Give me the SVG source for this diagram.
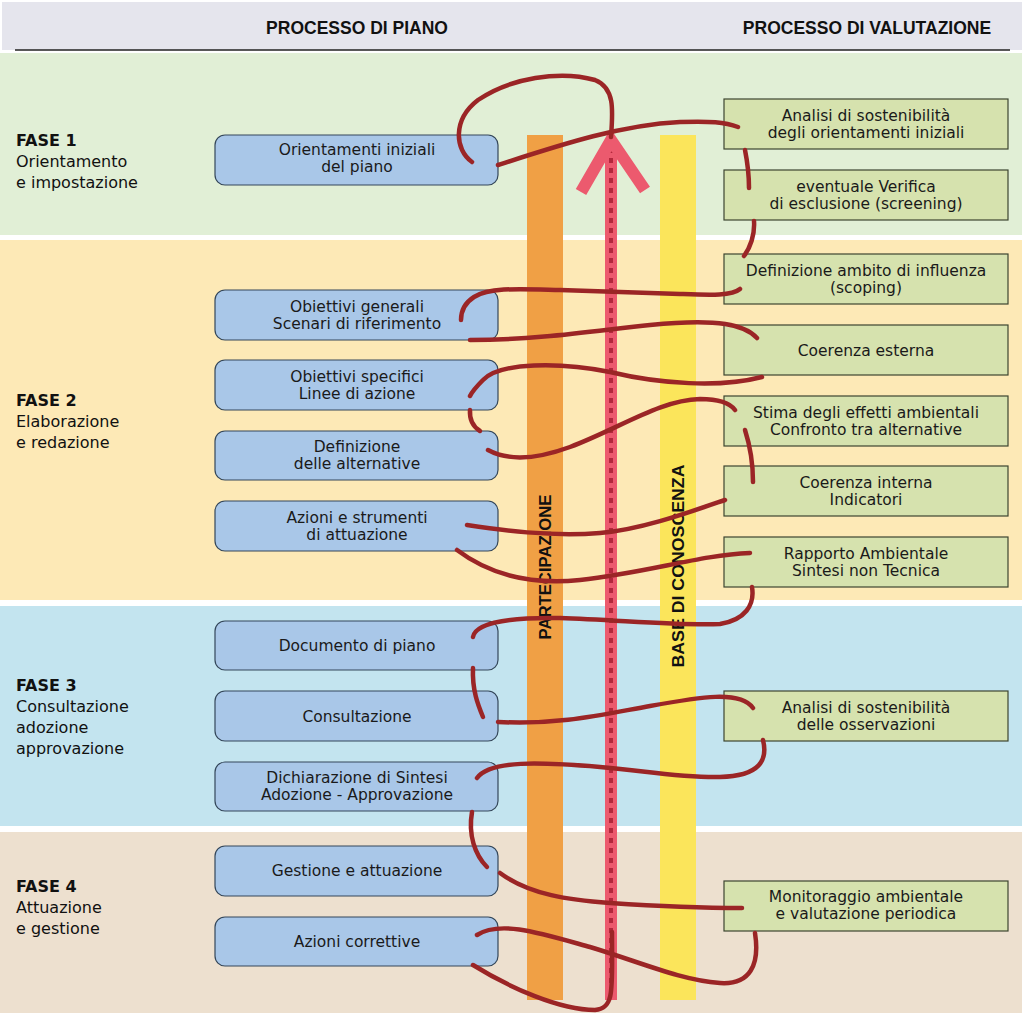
<svg xmlns="http://www.w3.org/2000/svg" width="1024" height="1017" viewBox="0 0 1024 1017">
<style>
.ph{font-family:"DejaVu Sans","Liberation Sans",sans-serif;font-size:16px;fill:#111}
.phb{font-weight:bold}
.hd{font-family:"Liberation Sans",Arial,sans-serif;font-size:17.5px;font-weight:bold;fill:#111;text-anchor:middle}
.bx{font-family:"DejaVu Sans","Liberation Sans",sans-serif;font-size:15.5px;fill:#1a1a1a;text-anchor:middle}
.lb{fill:#a9c7e8;stroke:#34475a;stroke-width:1.2}
.rb{fill:#d6e2ae;stroke:#3c4530;stroke-width:1.2}
.vt{font-family:"Liberation Sans",Arial,sans-serif;font-size:17px;font-weight:bold;fill:#111;text-anchor:middle}
.c{fill:none;stroke:#9b2526;stroke-width:4.5;stroke-linecap:round}
</style>
<rect x="0" y="0" width="1024" height="1017" fill="#ffffff"/>
<g id="header">
<rect x="2" y="2" width="1020" height="48" fill="#e5e5ed"/>
<line x1="15" y1="50" x2="1010" y2="50" stroke="#222" stroke-width="1.5"/>
<text class="hd" x="357" y="34">PROCESSO DI PIANO</text>
<text class="hd" x="867" y="34">PROCESSO DI VALUTAZIONE</text>
</g>
<g id="bands">
<rect x="0" y="53" width="1022" height="182" fill="#e1efd6"/>
<rect x="0" y="240" width="1022" height="360" fill="#fde9b6"/>
<rect x="0" y="606" width="1022" height="220" fill="#c3e4ef"/>
<rect x="0" y="832" width="1022" height="181" fill="#ede0cf"/>
</g>
<g id="phases">
<text class="ph" x="16" y="146"><tspan class="phb">FASE 1</tspan><tspan x="16" dy="21">Orientamento</tspan><tspan x="16" dy="21">e impostazione</tspan></text>
<text class="ph" x="16" y="406"><tspan class="phb">FASE 2</tspan><tspan x="16" dy="21">Elaborazione</tspan><tspan x="16" dy="21">e redazione</tspan></text>
<text class="ph" x="16" y="691"><tspan class="phb">FASE 3</tspan><tspan x="16" dy="21">Consultazione</tspan><tspan x="16" dy="21">adozione</tspan><tspan x="16" dy="21">approvazione</tspan></text>
<text class="ph" x="16" y="892"><tspan class="phb">FASE 4</tspan><tspan x="16" dy="21">Attuazione</tspan><tspan x="16" dy="21">e gestione</tspan></text>
</g>
<g id="partecipazione">
<rect x="527" y="135" width="36" height="865" fill="#f0a045"/>
<text class="vt" transform="translate(551,567) rotate(-90)" textLength="145" lengthAdjust="spacingAndGlyphs">PARTECIPAZIONE</text>
</g>
<g id="base-conoscenza">
<rect x="660" y="135" width="36" height="865" fill="#fbe55b"/>
<text class="vt" transform="translate(684,566) rotate(-90)" textLength="203" lengthAdjust="spacingAndGlyphs">BASE DI CONOSCENZA</text>
</g>
<g id="timeline-arrow">
<rect x="605" y="140" width="12" height="860" fill="#ec5a6e"/>
<line x1="611" y1="148" x2="611" y2="998" stroke="#b3283c" stroke-width="4" stroke-dasharray="5 5"/>
<polyline points="581,192 611,140 645,190" fill="none" stroke="#ec5a6e" stroke-width="12" stroke-linejoin="miter"/>
</g>
<g id="plan-1"><rect class="lb" x="215" y="135" width="283" height="50" rx="10"/><text class="bx" x="357" y="155">Orientamenti iniziali<tspan x="357" dy="17">del piano</tspan></text></g>
<g id="plan-2"><rect class="lb" x="215" y="290" width="283" height="50" rx="10"/><text class="bx" x="357" y="312">Obiettivi generali<tspan x="357" dy="17">Scenari di riferimento</tspan></text></g>
<g id="plan-3"><rect class="lb" x="215" y="360" width="283" height="50" rx="10"/><text class="bx" x="357" y="382">Obiettivi specifici<tspan x="357" dy="17">Linee di azione</tspan></text></g>
<g id="plan-4"><rect class="lb" x="215" y="431" width="283" height="49" rx="10"/><text class="bx" x="357" y="452">Definizione<tspan x="357" dy="17">delle alternative</tspan></text></g>
<g id="plan-5"><rect class="lb" x="215" y="501" width="283" height="50" rx="10"/><text class="bx" x="357" y="523">Azioni e strumenti<tspan x="357" dy="17">di attuazione</tspan></text></g>
<g id="plan-6"><rect class="lb" x="215" y="621" width="283" height="49" rx="10"/><text class="bx" x="357" y="651">Documento di piano</text></g>
<g id="plan-7"><rect class="lb" x="215" y="691" width="283" height="50" rx="10"/><text class="bx" x="357" y="722">Consultazione</text></g>
<g id="plan-8"><rect class="lb" x="215" y="762" width="283" height="49" rx="10"/><text class="bx" x="357" y="783">Dichiarazione di Sintesi<tspan x="357" dy="17">Adozione - Approvazione</tspan></text></g>
<g id="plan-9"><rect class="lb" x="215" y="846" width="283" height="50" rx="10"/><text class="bx" x="357" y="876">Gestione e attuazione</text></g>
<g id="plan-10"><rect class="lb" x="215" y="917" width="283" height="49" rx="10"/><text class="bx" x="357" y="947">Azioni correttive</text></g>
<g id="val-1"><rect class="rb" x="724" y="99" width="284" height="50"/><text class="bx" x="866" y="121">Analisi di sostenibilità<tspan x="866" dy="17">degli orientamenti iniziali</tspan></text></g>
<g id="val-2"><rect class="rb" x="724" y="170" width="284" height="50"/><text class="bx" x="866" y="192">eventuale Verifica<tspan x="866" dy="17">di esclusione (screening)</tspan></text></g>
<g id="val-3"><rect class="rb" x="724" y="254" width="284" height="50"/><text class="bx" x="866" y="276">Definizione ambito di influenza<tspan x="866" dy="17">(scoping)</tspan></text></g>
<g id="val-4"><rect class="rb" x="724" y="325" width="284" height="50"/><text class="bx" x="866" y="356">Coerenza esterna</text></g>
<g id="val-5"><rect class="rb" x="724" y="396" width="284" height="50"/><text class="bx" x="866" y="418">Stima degli effetti ambientali<tspan x="866" dy="17">Confronto tra alternative</tspan></text></g>
<g id="val-6"><rect class="rb" x="724" y="466" width="284" height="50"/><text class="bx" x="866" y="488">Coerenza interna<tspan x="866" dy="17">Indicatori</tspan></text></g>
<g id="val-7"><rect class="rb" x="724" y="537" width="284" height="50"/><text class="bx" x="866" y="559">Rapporto Ambientale<tspan x="866" dy="17">Sintesi non Tecnica</tspan></text></g>
<g id="val-8"><rect class="rb" x="724" y="691" width="284" height="50"/><text class="bx" x="866" y="713">Analisi di sostenibilità<tspan x="866" dy="17">delle osservazioni</tspan></text></g>
<g id="val-9"><rect class="rb" x="724" y="881" width="284" height="50"/><text class="bx" x="866" y="902">Monitoraggio ambientale<tspan x="866" dy="17">e valutazione periodica</tspan></text></g>
<g id="connectors">
<path class="c" d="M472,162 C455,150 452,120 478,100 C510,78 560,70 595,80 C615,88 613,110 611,137"/>
<path class="c" d="M498,165 C560,145 620,125 680,122 C710,121 725,122 738,127"/>
<path class="c" d="M745,150 Q749,170 749,188"/>
<path class="c" d="M754,221 C755,235 750,248 744,256"/>
<path class="c" d="M740,289 C732,296 710,295 680,294 C640,293 600,291 560,290 C520,289 490,287 474,297 C463,304 461,312 461,320"/>
<path class="c" d="M470,340 C540,340 600,330 650,325 C720,318 745,325 757,338"/>
<path class="c" d="M762,377 C720,388 660,384 610,372 C560,362 500,362 483,380 C476,387 472,392 470,396"/>
<path class="c" d="M470,410 Q469,424 480,431"/>
<path class="c" d="M488,450 C510,462 540,458 570,447 C620,428 660,400 700,399 C720,399 730,403 735,410"/>
<path class="c" d="M745,430 Q753,455 753,482"/>
<path class="c" d="M725,500 C690,512 640,530 600,533 C550,537 500,530 467,525"/>
<path class="c" d="M457,550 C490,575 530,585 580,580 C650,572 700,555 750,553"/>
<path class="c" d="M752,587 C755,605 745,620 720,624 C680,626 620,620 560,618 C500,617 475,625 473,637"/>
<path class="c" d="M473,668 C472,690 478,705 483,717"/>
<path class="c" d="M498,722 C560,725 600,715 650,706 C700,697 740,690 753,708"/>
<path class="c" d="M763,740 C768,760 760,776 720,777 C680,778 640,770 600,767 C540,762 490,760 477,778"/>
<path class="c" d="M472,812 C468,835 475,855 487,867"/>
<path class="c" d="M500,873 C530,895 570,900 610,903 C670,907 720,908 742,908"/>
<path class="c" d="M755,933 C760,965 750,985 720,983 C680,980 640,962 590,947 C540,933 500,920 477,935"/>
<path class="c" d="M473,965 C510,988 560,1010 595,1010 C615,1008 612,990 612,932"/>
</g>
</svg>
